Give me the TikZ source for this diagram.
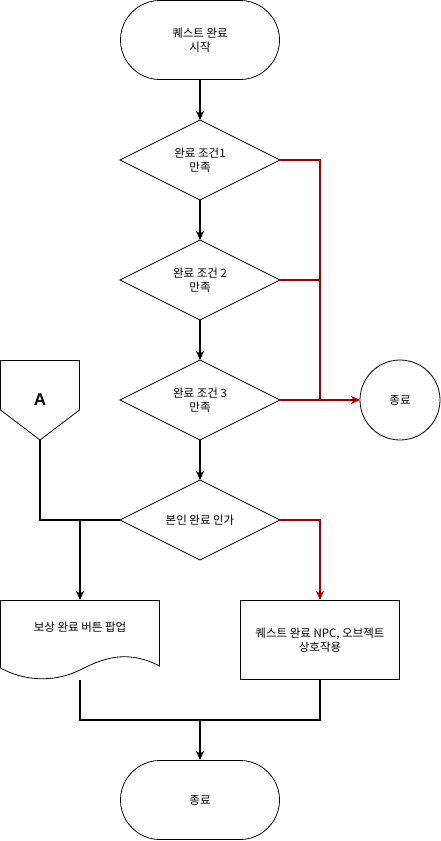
\documentclass[tikz,border=0pt]{standalone}
\usepackage{fontspec}
\setmainfont{Noto Sans CJK KR}
\usetikzlibrary{arrows.meta,shapes.geometric}
\definecolor{redline}{HTML}{A50000}
\begin{document}
\begin{tikzpicture}[x=1pt,y=-1pt,
  every node/.style={font=\fontsize{11.5}{14}\selectfont, align=center, inner sep=0pt},
  shapeline/.style={draw=black, line width=0.8pt},
  conn/.style={line width=1.6pt, draw=black},
  rconn/.style={line width=1.3pt, draw=redline},
  tip/.style={-{Stealth[length=9pt,width=8pt,inset=2.5pt]}}
]
\useasboundingbox (0,0) rectangle (441,841);
% start terminal
\draw[shapeline, rounded corners=39.5pt] (120.5,0.5) rectangle (279.5,79.5);
\node (start) at (200,40) {퀘스트 완료\\시작};
\coordinate (startb) at (200,80);
% diamonds
\draw[shapeline] (120,160) -- (200,120) -- (280,160) -- (200,200) -- cycle;
\node (d1) at (200,160) {완료 조건1\\만족};
\coordinate (d1t) at (200,120); \coordinate (d1b) at (200,200); \coordinate (d1r) at (280,160);
\draw[shapeline] (120,280) -- (200,240) -- (280,280) -- (200,320) -- cycle;
\node (d2) at (200,280) {완료 조건 2\\만족};
\coordinate (d2t) at (200,240); \coordinate (d2b) at (200,320); \coordinate (d2r) at (280,280);
\draw[shapeline] (120,400) -- (200,360) -- (280,400) -- (200,440) -- cycle;
\node (d3) at (200,400) {완료 조건 3\\만족};
\coordinate (d3t) at (200,360); \coordinate (d3b) at (200,440); \coordinate (d3r) at (280,400);
\draw[shapeline] (120,520) -- (200,480) -- (280,520) -- (200,560) -- cycle;
\node (d4) at (200,520) {본인 완료 인가};
\coordinate (d4t) at (200,480); \coordinate (d4l) at (120,520); \coordinate (d4r) at (280,520);
% end circle
\draw[shapeline] (400,400) circle[radius=40];
\node (endc) at (400,400) {종료};
\coordinate (endcl) at (360,400);
% off-page A
\draw[shapeline] (0.5,360.5) -- (79.5,360.5) -- (79.5,410) -- (40,440) -- (0.5,410) -- cycle;
\node (A) at (40,400) {\fontsize{17}{20}\selectfont\bfseries\fontspec{Liberation Sans}A};
\coordinate (Ab) at (40,440);
% document
\draw[shapeline] (0.5,600.5) -- (159.5,600.5) -- (159.5,666)
  .. controls (125,648) and (100,660) .. (80,670)
  .. controls (60,680) and (30,684) .. (0.5,668) -- cycle;
\node (doc) at (80,627) {보상 완료 버튼 팝업};
\coordinate (doct) at (80,600); \coordinate (docb) at (80,680);
% process
\draw[shapeline] (240.5,600.5) rectangle (399.5,679.5);
\node (proc) at (320,640) {퀘스트 완료 NPC, 오브젝트\\상호작용};
\coordinate (proct) at (320,600); \coordinate (procb) at (320,680);
% end terminal
\draw[shapeline, rounded corners=39.5pt] (120.5,760.5) rectangle (279.5,839.5);
\node (fin) at (200,800) {종료};
\coordinate (fint) at (200,760);
% black connectors
\draw[conn,tip] (startb) -- (d1t);
\draw[conn,tip] (d1b) -- (d2t);
\draw[conn,tip] (d2b) -- (d3t);
\draw[conn,tip] (d3b) -- (d4t);
\draw[conn] (Ab) |- (d4l);
\draw[conn,tip] (80,520) -- (doct);
\draw[conn] (docb) |- (200,720) -| (procb);
\draw[conn,tip] (200,720) -- (fint);
% red connectors
\draw[rconn] (d1r) -| (320,400);
\draw[rconn] (d2r) -| (320,400);
\draw[rconn,tip] (d3r) -- (endcl);
\draw[rconn,tip] (d4r) -| (proct);
\end{tikzpicture}
\end{document}
